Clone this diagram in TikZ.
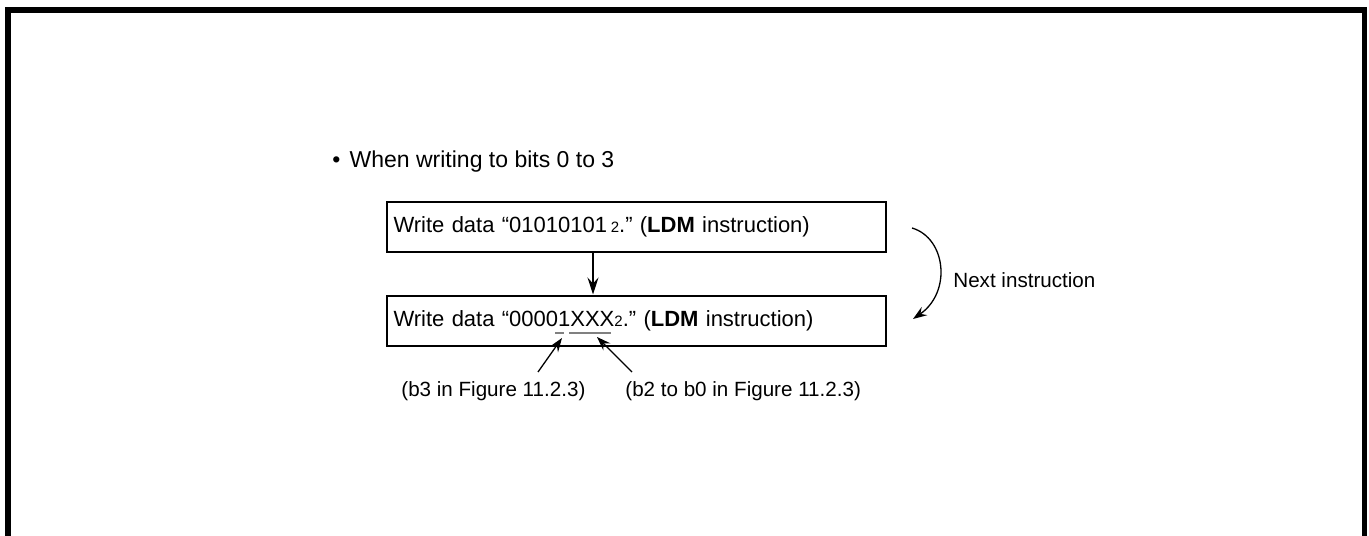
\documentclass[tikz,border=0pt]{standalone}
\usepackage{fontspec}
\setmainfont{Liberation Sans}
\usetikzlibrary{arrows.meta,positioning,calc}
\frenchspacing
\tikzset{
  frame/.style  ={line width=2.8pt},
  instr/.style  ={draw,line width=1pt,minimum width=249.5pt,minimum height=25pt,
                  text width=242.5pt,inner xsep=3.5pt,align=left,font=\fontsize{11}{13}\selectfont},
  lbl/.style    ={inner sep=0pt,font=\fontsize{10.3}{12}\selectfont},
  flow/.style   ={-{Stealth[length=7pt,width=5pt,inset=2.5pt]},line width=0.65pt},
  bitline/.style={gray,line width=0.7pt},
}
\newcommand{\bsub}[1]{{\fontsize{7.5}{8}\selectfont #1}}

\begin{document}
\begin{tikzpicture}[x=0.5pt,y=-0.5pt]
  \useasboundingbox (0,0) rectangle (1369,535);
  \draw[frame] (8,540) -- (8,10) -- (1364.5,10) -- (1364.5,540);

  \node[lbl,anchor=base west,font=\fontsize{11.5}{13}\selectfont] (head) at (332,167)
       {\textbullet\hspace{0.4em}When writing to bits 0 to 3};

  \node[instr] (w1) at (636,227) {Write data “01010101\,\bsub{2}.” (\textbf{LDM} instruction)};
  \node[instr] (w2) at (636,320.5) {Write data “00001XXX\bsub{2}.” (\textbf{LDM} instruction)};
  \draw[flow,-{Stealth[length=8.5pt,width=5.5pt,inset=3pt]}]
       ([xshift=-21.5pt]w1.south) -- ([xshift=-21.5pt]w2.north);

  % next instruction
  \coordinate (n1) at (912,228);
  \coordinate (n2) at (913,319);
  \draw[flow] (n1) .. controls (946,238) and (952,292) .. (n2);
  \node[lbl,anchor=base west] (next) at (953,287) {Next instruction};

  % bit fields
  \coordinate (u1a) at (555,333);
  \coordinate (u1b) at (564,333);
  \coordinate (u2a) at (569,333);
  \coordinate (u2b) at (611,333);
  \draw[bitline] (u1a) -- (u1b);
  \draw[bitline] (u2a) -- (u2b);

  \node[lbl,anchor=base west] (b3) at (401,396) {(b3 in Figure 11.2.3)};
  \node[lbl,anchor=base west] (b2) at (625,396) {(b2 to b0 in Figure 11.2.3)};
  \coordinate (p1) at (538,372);
  \coordinate (p2) at (632,372);
  \coordinate (t1) at (562,338);
  \coordinate (t2) at (597,337);
  \draw[flow] (p1) -- (t1);
  \draw[flow] (p2) -- (t2);
\end{tikzpicture}
\end{document}
